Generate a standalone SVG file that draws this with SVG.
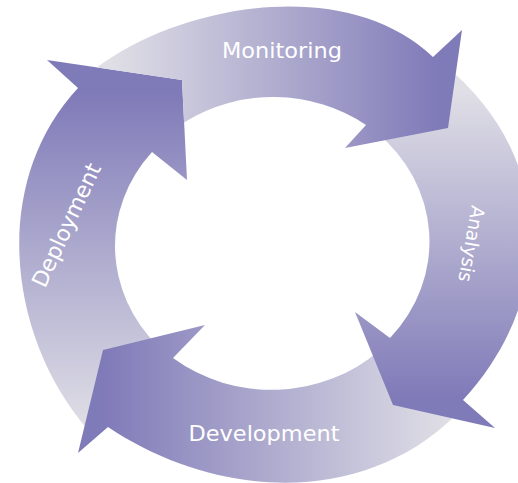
<svg xmlns="http://www.w3.org/2000/svg" width="518" height="483" viewBox="0 0 518 483">
  <defs>
    <linearGradient id="gMon" gradientUnits="userSpaceOnUse" x1="110" y1="0" x2="440" y2="0">
      <stop offset="0" stop-color="#e0dfe6"/>
      <stop offset="1" stop-color="#7f7ab8"/>
    </linearGradient>
    <linearGradient id="gAna" gradientUnits="userSpaceOnUse" x1="0" y1="90" x2="0" y2="400">
      <stop offset="0" stop-color="#e0dfe6"/>
      <stop offset="1" stop-color="#7f7ab8"/>
    </linearGradient>
    <linearGradient id="gDev" gradientUnits="userSpaceOnUse" x1="450" y1="0" x2="100" y2="0">
      <stop offset="0" stop-color="#e0dfe6"/>
      <stop offset="1" stop-color="#7f7ab8"/>
    </linearGradient>
    <linearGradient id="gDep" gradientUnits="userSpaceOnUse" x1="0" y1="430" x2="0" y2="90">
      <stop offset="0" stop-color="#e0dfe6"/>
      <stop offset="1" stop-color="#7f7ab8"/>
    </linearGradient>
  </defs>
  <style>
    .lbl { font-family: "DejaVu Sans", "Liberation Sans", sans-serif; fill: #ffffff; font-size: 22px; }
  </style>
  <rect width="518" height="483" fill="#ffffff"/>
  <g id="connectors">
    <g id="deployment">
      <path d="M 158,346 L 88,430 C 4.8,332.7 -8,180 78,88 L 47,60 L 182,80 L 187,180 L 152,152 A 158 146 0 0 0 158,346 Z" fill="url(#gDep)"/>
      <text class="lbl" transform="translate(66,225) rotate(-65)" x="0" y="8" text-anchor="middle" textLength="134" lengthAdjust="spacingAndGlyphs">Deployment</text>
    </g>
    <g id="development">
      <path d="M 380,350 L 455,416 C 360.5,508 213.6,498 108,427 L 78,453 L 103,350 L 205,325 L 173,358 A 158 146 0 0 0 380,350 Z" fill="url(#gDev)"/>
      <text class="lbl" x="264" y="441" text-anchor="middle" textLength="151" lengthAdjust="spacingAndGlyphs">Development</text>
    </g>
    <g id="analysis">
      <path d="M 376,132 L 443,64 C 552,150 560,295 463,400 L 495,428 L 393,405 L 355,312 L 390,338 A 158 146 0 0 0 376,132 Z" fill="url(#gAna)"/>
      <text class="lbl" transform="translate(472,244) rotate(100)" x="0" y="7" text-anchor="middle" style="font-size:19px" textLength="77" lengthAdjust="spacingAndGlyphs">Analysis</text>
    </g>
    <g id="monitoring">
      <path d="M 184,122.4 L 182,80 L 97,67.4 C 181,4.4 346,-25.7 433,57 L 462,30 L 448,128 L 345,148 L 366,125 A 158 146 0 0 0 184,122.4 Z" fill="url(#gMon)"/>
      <text class="lbl" x="282" y="58" text-anchor="middle" textLength="120" lengthAdjust="spacingAndGlyphs">Monitoring</text>
    </g>
  </g>
</svg>
